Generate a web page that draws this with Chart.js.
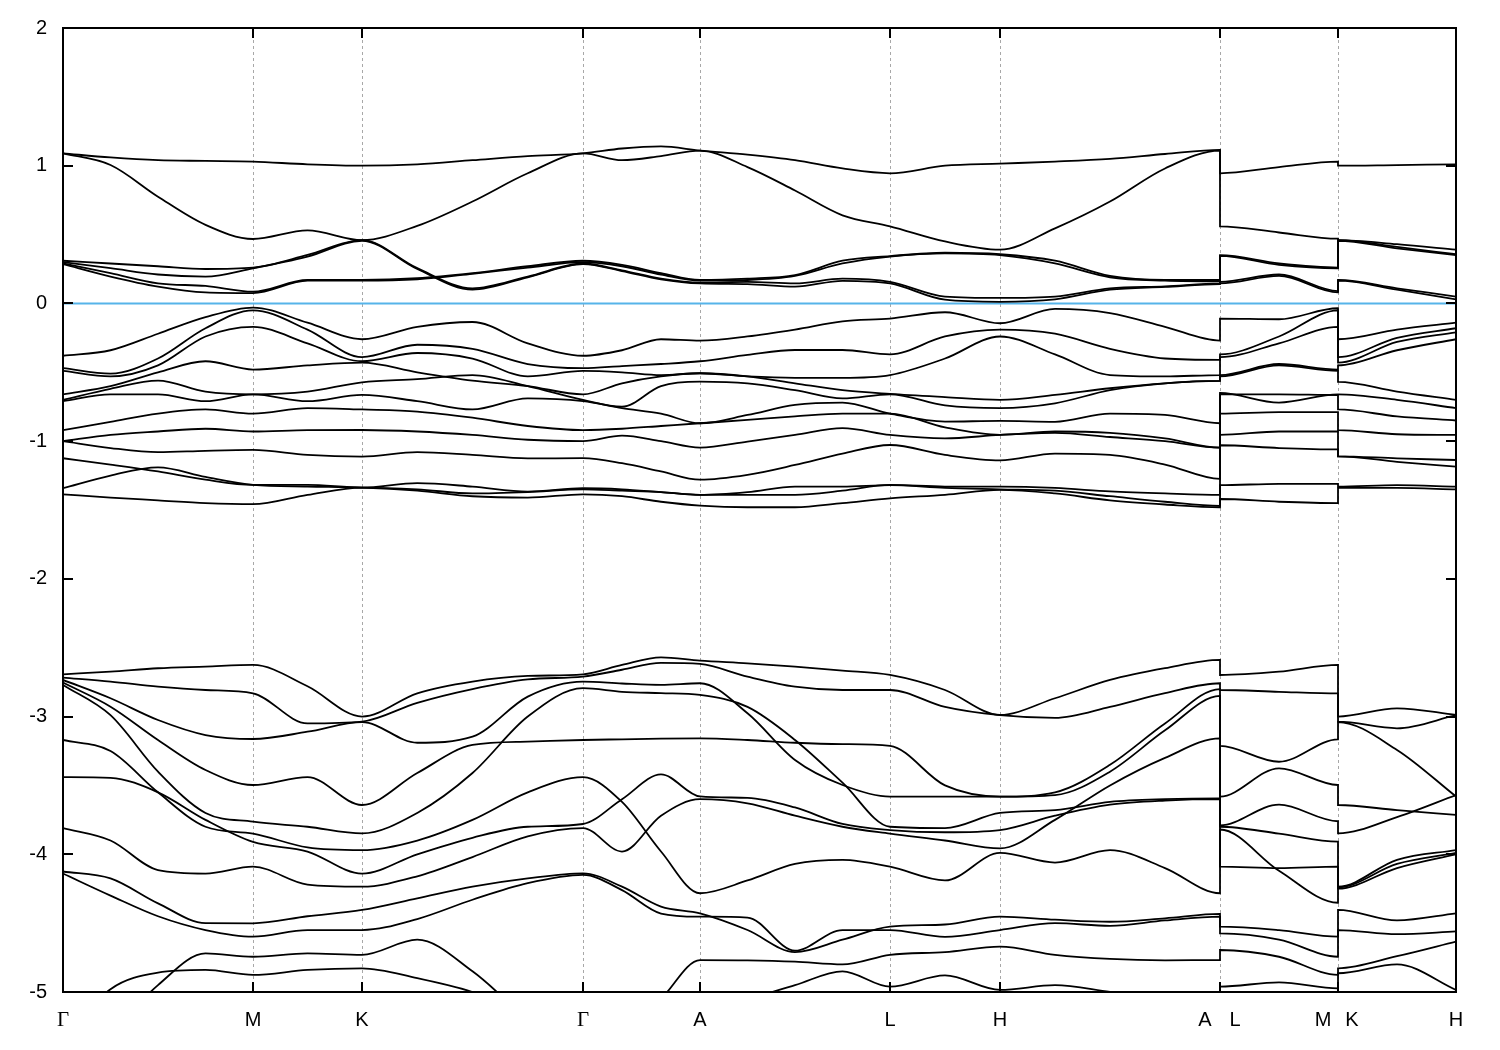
<!DOCTYPE html>
<html><head><meta charset="utf-8">
<script src="https://cdn.jsdelivr.net/npm/chart.js@4.4.1/dist/chart.umd.min.js"></script>
<style>html,body{margin:0;padding:0;background:#fff;}canvas{display:block;}</style>
</head><body>
<canvas id="c" width="1500" height="1050"></canvas>
<script>
// k-path coordinate of every sample (duplicates = path breaks A|L and M|K)
const kPath = [0, 47.5, 95, 142.5, 190, 244.5, 299, 354.25, 409.5, 464.75, 520, 559, 598, 637, 684.5, 732, 779.5, 827, 882, 937, 992, 1047, 1102, 1157, 1157, 1216, 1275, 1275, 1334, 1393];
// high-symmetry points
const kSymX = [0, 190, 299, 520, 637, 827, 937, 1157, 1275, 1393];
const kLabels = ['Γ', 'M', 'K', 'Γ', 'A', 'L', 'H', 'A', 'L', 'M', 'K', 'H'];
const kLabelX = [0, 190, 299, 520, 637, 827, 937, 1142, 1172, 1260, 1289, 1393];
const energyMin = -5, energyMax = 2, energyStep = 1;
const fermiLevel = 0;

// conduction bands
const c1 = [1.09, 1.06, 1.04, 1.035, 1.03, 1.01, 1.00, 1.01, 1.04, 1.07, 1.09, 1.125, 1.14, 1.11, 1.08, 1.04, 0.98, 0.945, 1.00, 1.015, 1.03, 1.05, 1.085, 1.115, 0.945, 0.99, 1.03, 1.00, 1.005, 1.01];
const c2 = [1.09, 1.005, 0.775, 0.57, 0.468, 0.53, 0.46, 0.563, 0.74, 0.945, 1.09, 1.04, 1.07, 1.11, 0.99, 0.82, 0.64, 0.56, 0.45, 0.39, 0.545, 0.74, 0.98, 1.11, 0.56, 0.515, 0.47, 0.46, 0.43, 0.39];
const c3 = [0.31, 0.29, 0.27, 0.25, 0.26, 0.352, 0.46, 0.256, 0.11, 0.195, 0.29, 0.24, 0.18, 0.15, 0.157, 0.145, 0.18, 0.157, 0.05, 0.04, 0.05, 0.11, 0.124, 0.145, 0.157, 0.21, 0.09, 0.17, 0.11, 0.05];
const c4 = [0.30, 0.256, 0.21, 0.195, 0.255, 0.34, 0.455, 0.25, 0.10, 0.19, 0.285, 0.235, 0.175, 0.145, 0.14, 0.122, 0.164, 0.145, 0.027, 0.012, 0.03, 0.10, 0.12, 0.14, 0.145, 0.20, 0.08, 0.165, 0.10, 0.03];
const c5 = [0.29, 0.22, 0.146, 0.127, 0.085, 0.17, 0.17, 0.183, 0.22, 0.27, 0.31, 0.28, 0.22, 0.17, 0.18, 0.206, 0.31, 0.344, 0.368, 0.357, 0.31, 0.20, 0.17, 0.17, 0.35, 0.29, 0.26, 0.46, 0.41, 0.357];
const c6 = [0.285, 0.195, 0.122, 0.08, 0.075, 0.165, 0.165, 0.175, 0.215, 0.26, 0.30, 0.27, 0.21, 0.165, 0.17, 0.20, 0.29, 0.34, 0.363, 0.35, 0.29, 0.19, 0.165, 0.16, 0.345, 0.28, 0.255, 0.455, 0.40, 0.35];

// valence bands (0 to -1.5)
const v1 = [-0.38, -0.34, -0.22, -0.10, -0.03, -0.14, -0.26, -0.17, -0.135, -0.29, -0.38, -0.34, -0.26, -0.27, -0.24, -0.19, -0.13, -0.11, -0.064, -0.144, -0.04, -0.07, -0.17, -0.27, -0.11, -0.115, -0.035, -0.26, -0.19, -0.14];
const v2 = [-0.47, -0.51, -0.40, -0.18, -0.05, -0.19, -0.39, -0.30, -0.33, -0.44, -0.47, -0.455, -0.44, -0.42, -0.374, -0.338, -0.338, -0.37, -0.24, -0.19, -0.22, -0.33, -0.40, -0.41, -0.37, -0.24, -0.05, -0.39, -0.25, -0.18];
const v3 = [-0.49, -0.53, -0.45, -0.24, -0.17, -0.29, -0.42, -0.36, -0.40, -0.53, -0.49, -0.50, -0.52, -0.507, -0.53, -0.54, -0.54, -0.52, -0.40, -0.24, -0.37, -0.52, -0.53, -0.52, -0.39, -0.29, -0.17, -0.43, -0.28, -0.21];
const v4 = [-0.66, -0.60, -0.50, -0.42, -0.48, -0.45, -0.43, -0.50, -0.56, -0.60, -0.66, -0.58, -0.53, -0.507, -0.53, -0.58, -0.63, -0.657, -0.68, -0.70, -0.664, -0.616, -0.58, -0.563, -0.52, -0.44, -0.48, -0.45, -0.34, -0.26];
const v5 = [-0.70, -0.62, -0.56, -0.64, -0.66, -0.64, -0.573, -0.55, -0.52, -0.60, -0.70, -0.75, -0.60, -0.568, -0.58, -0.63, -0.69, -0.66, -0.74, -0.76, -0.725, -0.63, -0.58, -0.563, -0.53, -0.45, -0.49, -0.57, -0.64, -0.70];
const v6 = [-0.71, -0.66, -0.66, -0.71, -0.66, -0.71, -0.664, -0.71, -0.77, -0.69, -0.71, -0.76, -0.80, -0.87, -0.81, -0.737, -0.72, -0.80, -0.858, -0.853, -0.86, -0.80, -0.81, -0.87, -0.65, -0.72, -0.66, -0.66, -0.70, -0.76];
const v7 = [-0.92, -0.86, -0.80, -0.77, -0.80, -0.76, -0.77, -0.785, -0.83, -0.89, -0.92, -0.91, -0.89, -0.87, -0.846, -0.82, -0.80, -0.80, -0.90, -0.955, -0.93, -0.94, -0.98, -1.047, -0.66, -0.66, -0.665, -0.77, -0.82, -0.85];
const v8 = [-1.00, -0.955, -0.93, -0.91, -0.93, -0.92, -0.919, -0.93, -0.955, -0.99, -1.00, -0.96, -1.00, -1.047, -1.003, -0.955, -0.906, -0.955, -0.98, -0.955, -0.94, -0.97, -1.00, -1.047, -0.80, -0.79, -0.79, -0.92, -0.95, -0.955];
const v9 = [-1.00, -1.05, -1.08, -1.07, -1.064, -1.10, -1.112, -1.08, -1.10, -1.125, -1.124, -1.16, -1.22, -1.28, -1.245, -1.173, -1.09, -1.028, -1.10, -1.14, -1.09, -1.10, -1.17, -1.274, -0.955, -0.93, -0.93, -1.11, -1.125, -1.137];
const v10 = [-1.124, -1.17, -1.22, -1.28, -1.318, -1.318, -1.337, -1.305, -1.33, -1.366, -1.342, -1.35, -1.37, -1.39, -1.39, -1.39, -1.36, -1.318, -1.33, -1.33, -1.34, -1.365, -1.38, -1.39, -1.03, -1.05, -1.06, -1.11, -1.15, -1.185];
const v11 = [-1.342, -1.25, -1.19, -1.26, -1.318, -1.33, -1.337, -1.36, -1.40, -1.41, -1.386, -1.40, -1.44, -1.468, -1.48, -1.48, -1.45, -1.415, -1.39, -1.354, -1.38, -1.43, -1.46, -1.48, -1.32, -1.31, -1.31, -1.33, -1.32, -1.33];
const v12 = [-1.386, -1.41, -1.43, -1.45, -1.458, -1.39, -1.337, -1.35, -1.38, -1.37, -1.35, -1.36, -1.37, -1.39, -1.37, -1.33, -1.33, -1.32, -1.34, -1.35, -1.36, -1.40, -1.44, -1.47, -1.42, -1.44, -1.45, -1.34, -1.34, -1.35];

// lower bands (-2.6 to -5)
const d1 = [-2.693, -2.674, -2.649, -2.637, -2.625, -2.78, -3.0, -2.831, -2.746, -2.705, -2.693, -2.625, -2.57, -2.594, -2.613, -2.637, -2.666, -2.698, -2.807, -2.988, -2.867, -2.734, -2.649, -2.589, -2.698, -2.674, -2.625, -3.0, -2.94, -2.988];
const d2 = [-2.717, -2.746, -2.783, -2.807, -2.831, -3.05, -3.037, -2.90, -2.80, -2.73, -2.71, -2.66, -2.61, -2.618, -2.71, -2.783, -2.807, -2.807, -2.93, -2.99, -3.01, -2.93, -2.83, -2.758, -2.807, -2.82, -2.831, -3.037, -3.085, -2.99];
const d3 = [-2.734, -2.867, -3.025, -3.134, -3.163, -3.11, -3.04, -3.19, -3.146, -2.855, -2.746, -2.76, -2.77, -2.758, -2.976, -3.315, -3.497, -3.581, -3.581, -3.581, -3.55, -3.35, -3.05, -2.80, -3.213, -3.328, -3.165, -3.04, -3.242, -3.58];
const d4 = [-2.753, -2.928, -3.17, -3.388, -3.497, -3.44, -3.642, -3.41, -3.206, -3.182, -3.17, -3.165, -3.16, -3.158, -3.17, -3.19, -3.20, -3.213, -3.50, -3.581, -3.57, -3.40, -3.10, -2.85, -3.581, -3.376, -3.497, -3.642, -3.68, -3.714];
const d5 = [-2.77, -2.99, -3.40, -3.70, -3.763, -3.80, -3.848, -3.70, -3.41, -3.0, -2.794, -2.82, -2.83, -2.843, -2.93, -3.17, -3.48, -3.80, -3.81, -3.70, -3.68, -3.62, -3.60, -3.594, -3.79, -3.64, -3.76, -3.848, -3.73, -3.57];
const d6 = [-3.17, -3.25, -3.55, -3.80, -3.85, -3.95, -3.97, -3.90, -3.75, -3.55, -3.44, -3.62, -3.98, -4.283, -4.19, -4.07, -4.04, -4.09, -4.19, -3.99, -4.06, -3.97, -4.10, -4.283, -3.82, -4.12, -4.352, -4.235, -4.04, -3.969];
const d7 = [-3.44, -3.445, -3.55, -3.75, -3.91, -3.98, -4.14, -4.0, -3.88, -3.80, -3.78, -3.60, -3.42, -3.58, -3.59, -3.66, -3.78, -3.824, -3.84, -3.824, -3.72, -3.64, -3.61, -3.60, -3.80, -3.85, -3.908, -4.24, -4.07, -3.99];
const d8 = [-3.81, -3.90, -4.115, -4.14, -4.09, -4.22, -4.235, -4.16, -4.02, -3.87, -3.81, -3.98, -3.72, -3.60, -3.63, -3.72, -3.80, -3.85, -3.90, -3.957, -3.75, -3.50, -3.30, -3.158, -4.09, -4.10, -4.09, -4.25, -4.10, -4.0];
const d9 = [-4.125, -4.175, -4.356, -4.50, -4.501, -4.45, -4.404, -4.32, -4.235, -4.175, -4.138, -4.235, -4.38, -4.429, -4.55, -4.71, -4.62, -4.525, -4.51, -4.453, -4.475, -4.49, -4.465, -4.433, -4.525, -4.55, -4.598, -4.404, -4.48, -4.429];
const d10 = [-4.14, -4.30, -4.45, -4.55, -4.598, -4.55, -4.55, -4.47, -4.33, -4.21, -4.15, -4.26, -4.43, -4.453, -4.46, -4.70, -4.55, -4.55, -4.60, -4.55, -4.50, -4.52, -4.48, -4.453, -4.575, -4.62, -4.744, -4.55, -4.58, -4.56];
const d11 = [-5.35, -4.98, -4.86, -4.84, -4.876, -4.84, -4.828, -4.90, -5.0, -5.15, -5.35, -5.3, -5.05, -4.768, -4.77, -4.78, -4.80, -4.73, -4.71, -4.67, -4.73, -4.76, -4.77, -4.768, -4.695, -4.744, -4.876, -4.828, -4.74, -4.634];
const d12 = [-5.6, -5.3, -4.95, -4.72, -4.744, -4.72, -4.73, -4.62, -4.85, -5.2, -5.5, -5.4, -5.2, -5.1, -5.05, -4.95, -4.85, -4.961, -4.88, -4.985, -4.95, -5.0, -5.05, -5.1, -4.961, -4.93, -4.974, -4.864, -4.80, -4.985];

const bands = [c1, c2, c3, c4, c5, c6, v1, v2, v3, v4, v5, v6, v7, v8, v9, v10, v11, v12, d1, d2, d3, d4, d5, d6, d7, d8, d9, d10, d11, d12];

const datasets = bands.map(b => ({
  data: kPath.map((x, i) => ({ x: x, y: b[i] })),
  borderColor: '#000000',
  borderWidth: 1.8,
  pointRadius: 0,
  fill: false,
  cubicInterpolationMode: 'monotone'
}));
datasets.push({
  data: [{ x: kPath[0], y: fermiLevel }, { x: kPath[kPath.length - 1], y: fermiLevel }],
  borderColor: '#56b4e9',
  borderWidth: 2,
  pointRadius: 0,
  fill: false
});

const decor = {
  id: 'decor',
  beforeDatasetsDraw(chart) {
    const { ctx, chartArea: a, scales: { x } } = chart;
    ctx.save();
    ctx.strokeStyle = '#a8a8a8';
    ctx.lineWidth = 1;
    ctx.setLineDash([3, 3]);
    kSymX.slice(1, -1).forEach(v => {
      const px = Math.round(x.getPixelForValue(v)) + 0.5;
      ctx.beginPath(); ctx.moveTo(px, a.top); ctx.lineTo(px, a.bottom); ctx.stroke();
    });
    ctx.restore();
  },
  afterDraw(chart) {
    const { ctx, chartArea: a, scales: { x, y } } = chart;
    ctx.save();
    ctx.strokeStyle = '#000';
    ctx.setLineDash([]);
    ctx.lineWidth = 2;
    y.ticks.forEach(t => {
      const py = Math.round(y.getPixelForValue(t.value));
      ctx.beginPath();
      ctx.moveTo(a.left, py); ctx.lineTo(a.left + 10, py);
      ctx.moveTo(a.right, py); ctx.lineTo(a.right - 10, py);
      ctx.stroke();
    });
    kSymX.forEach(v => {
      const px = Math.round(x.getPixelForValue(v));
      ctx.beginPath();
      ctx.moveTo(px, a.bottom); ctx.lineTo(px, a.bottom - 10);
      ctx.moveTo(px, a.top); ctx.lineTo(px, a.top + 10);
      ctx.stroke();
    });
    ctx.strokeRect(a.left, a.top, a.right - a.left, a.bottom - a.top);
    ctx.restore();
  }
};

const sansFont = { family: 'Liberation Sans, Arial, sans-serif', size: 20 };
const serifFont = { family: 'Liberation Serif, Times New Roman, serif', size: 21 };

new Chart(document.getElementById('c'), {
  type: 'line',
  data: { datasets },
  plugins: [decor],
  options: {
    responsive: false,
    animation: false,
    devicePixelRatio: 1,
    layout: { padding: { left: 0, right: 44, top: 28, bottom: 0 } },
    plugins: { legend: { display: false }, tooltip: { enabled: false } },
    scales: {
      x: {
        type: 'linear',
        min: kPath[0],
        max: kPath[kPath.length - 1],
        grid: { display: false, drawTicks: false },
        border: { display: false },
        afterBuildTicks: s => { s.ticks = kLabelX.map(v => ({ value: v })); },
        afterFit: s => { s.height = 58; },
        ticks: {
          autoSkip: false, maxRotation: 0, minRotation: 0, padding: 16,
          color: '#000',
          font: c => (kLabels[c.index] === 'Γ' ? serifFont : sansFont),
          callback: (v, i) => kLabels[i]
        }
      },
      y: {
        type: 'linear',
        min: energyMin,
        max: energyMax,
        grid: { display: false, drawTicks: false },
        border: { display: false },
        afterFit: s => { s.width = 63; },
        ticks: { stepSize: energyStep, padding: 16, color: '#000', font: sansFont }
      }
    }
  }
});
</script>
</body></html>
